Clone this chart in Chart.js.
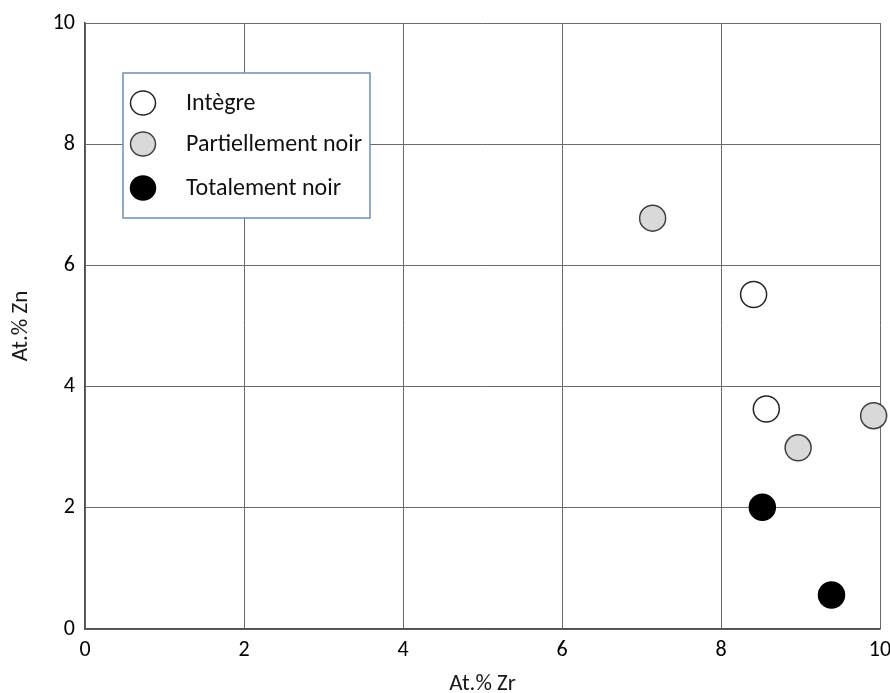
<!DOCTYPE html>
<html>
<head>
<meta charset="utf-8">
<script src="https://cdn.jsdelivr.net/npm/chart.js@4.4.0/dist/chart.umd.min.js"></script>
<style>
  html, body { margin: 0; padding: 0; background: #fff; overflow: hidden; }
  canvas { display: block; }
</style>
</head>
<body>
<canvas id="chart" width="890" height="693"></canvas>
<script>
/* Zn vs Zr scatter */

const seriesNames = ["Intègre", "Partiellement noir", "Totalement noir"];
const integreZr = [8.41, 8.57];
const integreZn = [5.52, 3.63];
const partielZr = [7.14, 9.92, 8.97];
const partielZn = [6.78, 3.52, 2.99];
const totalZr = [8.52, 9.39];
const totalZn = [2.01, 0.56];
const xTicks = [0, 2, 4, 6, 8, 10];
const yTicks = [0, 2, 4, 6, 8, 10];

const FONT = "Carlito, 'Liberation Sans', Arial, sans-serif";
const fills = ["#ffffff", "#d9d9d9", "#000000"];
const borders = ["#262626", "#404040", "#000000"];

function pts(xs, ys) {
  return xs.map((x, i) => ({ x: x, y: ys[i] }));
}

// legend box drawn inside the plot, like the original
const boxLegend = {
  id: "boxLegend",
  afterDraw(chart) {
    const ctx = chart.ctx;
    const a = chart.chartArea;
    const x0 = a.left + 38, y0 = a.top + 50, w = 247, h = 145;
    ctx.save();
    ctx.fillStyle = "#ffffff";
    ctx.fillRect(x0, y0, w, h);
    ctx.strokeStyle = "#6d8fb5";
    ctx.lineWidth = 1.5;
    ctx.strokeRect(x0, y0, w, h);
    ctx.font = "24px " + FONT;
    ctx.textBaseline = "middle";
    const rows = [30, 71, 115];
    seriesNames.forEach((name, i) => {
      const cy = y0 + rows[i];
      ctx.beginPath();
      ctx.ellipse(x0 + 20, cy, 12.5, 12, 0, 0, Math.PI * 2);
      ctx.fillStyle = fills[i];
      ctx.fill();
      ctx.strokeStyle = borders[i];
      ctx.lineWidth = 1.5;
      ctx.stroke();
      ctx.fillStyle = "#111";
      ctx.fillText(name, x0 + 63, cy + 1);
    });
    ctx.restore();
  }
};

const datasets = [
  pts(integreZr, integreZn),
  pts(partielZr, partielZn),
  pts(totalZr, totalZn)
].map((d, i) => ({
  label: seriesNames[i],
  data: d,
  pointRadius: 13,
  pointHoverRadius: 13,
  backgroundColor: fills[i],
  borderColor: borders[i],
  borderWidth: 1.5,
  clip: false
}));

new Chart(document.getElementById("chart"), {
  type: "scatter",
  data: { datasets: datasets },
  options: {
    responsive: false,
    animation: false,
    layout: { autoPadding: false, padding: { top: 23, right: 10, left: 0, bottom: 0 } },
    plugins: { legend: { display: false }, tooltip: { enabled: false } },
    scales: {
      x: {
        type: "linear",
        min: 0, max: 10,
        afterBuildTicks: s => { s.ticks = xTicks.map(v => ({ value: v })); },
        afterFit: s => { s.height = 64; s.paddingLeft = 0; s.paddingRight = 0; },
        grid: { color: "#6a6a6a", lineWidth: 1, drawTicks: false },
        border: { color: "#505050", width: 1.5 },
        ticks: { color: "#000", font: { size: 22, family: FONT }, padding: 8 },
        title: { display: true, text: "At.% Zr", color: "#1a1a1a", font: { size: 23, family: FONT, lineHeight: 0.8 }, padding: { top: 0, bottom: 0 } }
      },
      y: {
        type: "linear",
        min: 0, max: 10,
        afterBuildTicks: s => { s.ticks = yTicks.map(v => ({ value: v })); },
        afterFit: s => { s.width = 85; s.paddingTop = 0; s.paddingBottom = 0; },
        grid: { color: "#6a6a6a", lineWidth: 1, drawTicks: false },
        border: { color: "#505050", width: 1.5 },
        ticks: { color: "#000", font: { size: 22, family: FONT }, padding: 10 },
        title: { display: true, text: "At.% Zn", color: "#1a1a1a", font: { size: 23, family: FONT, lineHeight: 0.8 }, padding: { top: 12, bottom: 0 } }
      }
    }
  },
  plugins: [boxLegend]
});
</script>
</body>
</html>
